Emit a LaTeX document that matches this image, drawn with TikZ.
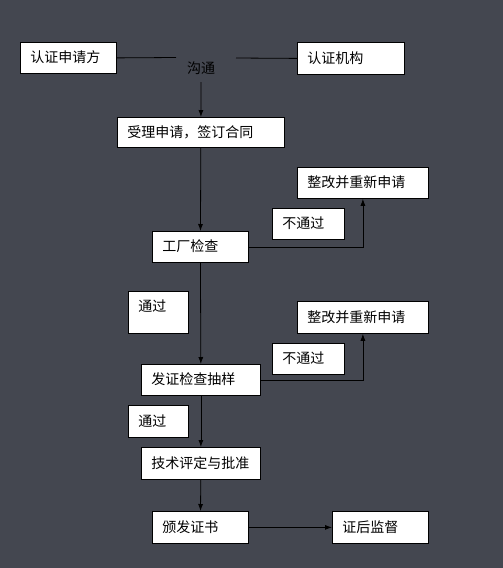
\documentclass[tikz,border=0pt]{standalone}
\usepackage{fontspec}
\newfontfamily\cjk{Noto Sans CJK SC}
\usetikzlibrary{arrows.meta}
\definecolor{bg}{RGB}{68,71,80}
\tikzstyle{box} = [draw, fill=white, anchor=north west, inner xsep=10pt, inner ysep=0pt, align=left, text height=12pt, text depth=2pt, minimum height=31pt, font=\cjk\fontsize{14pt}{16pt}\selectfont]

\begin{document}
\begin{tikzpicture}[x=1pt, y=-1pt, line width=.8pt, >={Latex[length=7pt,width=5pt]}]
    \fill[bg] (0,0) rectangle (503,568);
    \useasboundingbox (0,0) rectangle (503,568);
    \draw (20,42) node[box, text width=76pt] (apl) {认证申请方};
    \draw (297,42) node[box, text width=87pt, minimum height=32pt] (agc) {认证机构};
    \draw (201,68) node[font=\cjk\fontsize{14pt}{16pt}\selectfont] (gt) {沟通};
    \coordinate (gtl) at (176,57.5);
    \coordinate (gtr) at (236,58);
    \draw (117,117) node[box, text width=147pt, minimum height=30pt] (acc) {受理申请，签订合同};
    \draw (152,231) node[box, text width=76pt] (fac) {工厂检查};
    \draw (297,167) node[box, text width=111pt] (rc1) {整改并重新申请};
    \draw (272,208) node[box, text width=52pt] (ng1) {不通过};
    \draw (128,291) node[box, text width=40pt, minimum height=42pt, text height=20pt, text depth=22pt] (ok1) {通过};
    \draw (297,301) node[box, text width=111pt, minimum height=32pt] (rc2) {整改并重新申请};
    \draw (272,343) node[box, text width=52pt] (ng2) {不通过};
    \draw (141,364) node[box, text width=99pt] (smp) {发证检查抽样};
    \draw (128,405) node[box, text width=40pt, minimum height=32pt] (ok2) {通过};
    \draw (141,447) node[box, text width=99pt, minimum height=32pt] (rev) {技术评定与批准};
    \draw (152,511) node[box, text width=76pt, minimum height=32pt] (iss) {颁发证书};
    \draw (332,511) node[box, text width=76pt, minimum height=32pt] (sup) {证后监督};
    \draw (apl.east) -- (gtl);
    \draw (gtr) -- (agc.west);
    \draw [->, shorten <=4pt] (gt) -- (acc);
    \draw [->] (acc) -- (fac);
    \draw [->] (fac.east) -| (rc1.south);
    \draw [->] (fac) -- (smp);
    \draw [->] (smp.east) -| (rc2.south);
    \draw [->] (smp) -- (rev);
    \draw [->] (rev) -- (iss);
    \draw [->] (iss) -- (sup);
\end{tikzpicture}
\end{document}
